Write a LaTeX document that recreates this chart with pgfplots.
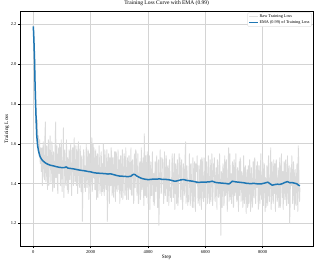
\documentclass[border=0pt]{standalone}
\usepackage{pgfplots}
\pgfplotsset{compat=1.18}
\usepackage{fontspec}
\setmainfont{Liberation Serif}
\definecolor{emablue}{HTML}{1F77B4}
\definecolor{rawgray}{HTML}{DBDBDB}
\begin{document}
\begin{tikzpicture}
\useasboundingbox (-40pt,-38.6pt) rectangle (598pt,493.4pt);
\begin{axis}[
  scale only axis, width=586.6pt, height=471.4pt,
  anchor=south west, at={(0,0)},
  xmin=-465, xmax=9765, ymin=1.083, ymax=2.267,
  xtick={0,2000,4000,6000,8000},
  ytick={1.2,1.4,1.6,1.8,2.0,2.2},
  yticklabel style={/pgf/number format/.cd,fixed,fixed zerofill,precision=1},
  xticklabel style={/pgf/number format/1000 sep={}},
  /pgf/number format/assume math mode=true,
  tick label style={font=\fontsize{9}{10}\selectfont},
  tick align=outside, major tick length=3.5pt,
  tick style={black, line width=0.8pt},
  xtick pos=lower, ytick pos=left,
  grid=major, major grid style={black!17, line width=1.2pt},
  axis line style={line width=0.8pt},
  title={Training Loss Curve with EMA (0.99)},
  title style={font=\fontsize{11}{13}\selectfont, at={(0.5,1)}, anchor=south, yshift=1pt},
  xlabel={Step}, ylabel={Training Loss},
  label style={font=\fontsize{10.5}{12}\selectfont},
  xlabel style={at={(axis description cs:0.5,0)}, anchor=north, yshift=-13pt},
  ylabel style={at={(axis description cs:-0.0443,0.5)}, anchor=center},
  legend style={at={(0.9945,0.993)}, anchor=north east, draw=black!20, rounded corners=2.5pt,
    font=\fontsize{8.5}{10}\selectfont, fill=white, inner sep=2pt, row sep=1pt},
  legend cell align=left,
  legend image code/.code={\draw[#1] (0pt,0pt) -- (17pt,0pt);},
]
\addlegendimage{black!12, line width=0.8pt}
\addlegendentry{Raw Training Loss}
\addplot[rawgray, line width=1.7pt, line join=round, forget plot] coordinates {
(0,2.21)(10,2.08)(20,2.16)(30,2.02)(40,1.97)(50,2.05)(60,1.88)(70,1.80)(80,1.86)(90,1.73)
(100,1.76)(120,1.66)(140,1.72)(160,1.58)(180,1.64)(200,1.54)(220,1.62)(240,1.50)(260,1.58)(280,1.46)
(300,1.58)(315,1.39)(330,1.47)(345,1.61)(360,1.53)(375,1.44)(390,1.42)(405,1.65)(420,1.71)(435,1.41)(450,1.50)(465,1.59)(480,1.45)(495,1.37)(510,1.55)(525,1.62)(540,1.39)(555,1.46)(570,1.57)(585,1.64)
(600,1.50)(615,1.40)(630,1.46)(645,1.61)(660,1.58)(675,1.36)(690,1.41)(705,1.56)(720,1.49)(735,1.38)(750,1.43)(765,1.64)(780,1.71)(795,1.43)(810,1.47)(825,1.59)(840,1.39)(855,1.35)(870,1.54)(885,1.58)
(900,1.45)(915,1.60)(930,1.57)(945,1.39)(960,1.48)(975,1.62)(990,1.41)(1005,1.36)(1020,1.51)(1035,1.54)(1050,1.68)(1065,1.33)(1080,1.43)(1095,1.57)(1110,1.50)(1125,1.40)(1140,1.39)(1155,1.62)(1170,1.52)(1185,1.37)
(1200,1.53)(1215,1.35)(1230,1.37)(1245,1.57)(1260,1.51)(1275,1.42)(1290,1.56)(1305,1.60)(1320,1.44)(1335,1.34)(1350,1.47)(1365,1.58)(1380,1.58)(1395,1.39)(1410,1.41)(1425,1.63)(1440,1.51)(1455,1.41)(1470,1.43)(1485,1.59)
(1500,1.39)(1515,1.57)(1530,1.51)(1545,1.35)(1560,1.58)(1575,1.61)(1590,1.44)(1605,1.39)(1620,1.38)(1635,1.59)(1650,1.49)(1665,1.36)(1680,1.53)(1695,1.54)(1710,1.21)(1725,1.34)(1740,1.48)(1755,1.57)(1770,1.54)(1785,1.38)
(1800,1.49)(1815,1.36)(1830,1.40)(1845,1.60)(1860,1.52)(1875,1.38)(1890,1.45)(1905,1.57)(1920,1.56)(1935,1.32)(1950,1.37)(1965,1.55)(1980,1.50)(1995,1.35)(2010,1.41)(2025,1.57)(2040,1.63)(2055,1.36)(2070,1.40)(2085,1.60)
(2100,1.43)(2115,1.58)(2130,1.52)(2145,1.37)(2160,1.37)(2175,1.57)(2190,1.47)(2205,1.32)(2220,1.53)(2235,1.55)(2250,1.33)(2265,1.39)(2280,1.50)(2295,1.59)(2310,1.46)(2325,1.35)(2340,1.40)(2355,1.54)(2370,1.56)(2385,1.34)
(2400,1.50)(2415,1.36)(2430,1.44)(2445,1.60)(2460,1.38)(2475,1.34)(2490,1.57)(2505,1.54)(2520,1.40)(2535,1.37)(2550,1.48)(2565,1.57)(2580,1.21)(2595,1.32)(2610,1.51)(2625,1.55)(2640,1.44)(2655,1.30)(2670,1.53)(2685,1.52)
(2700,1.39)(2715,1.58)(2730,1.54)(2745,1.34)(2760,1.47)(2775,1.53)(2790,1.35)(2805,1.33)(2820,1.50)(2835,1.56)(2850,1.42)(2865,1.31)(2880,1.56)(2895,1.55)(2910,1.38)(2925,1.36)(2940,1.46)(2955,1.57)(2970,1.41)(2985,1.37)
(3000,1.52)(3015,1.30)(3030,1.39)(3045,1.54)(3060,1.43)(3075,1.33)(3090,1.50)(3105,1.57)(3120,1.32)(3135,1.37)(3150,1.48)(3165,1.55)(3180,1.53)(3195,1.34)(3210,1.42)(3225,1.58)(3240,1.36)(3255,1.32)(3270,1.47)(3285,1.53)
(3300,1.42)(3315,1.32)(3330,1.54)(3345,1.54)(3360,1.38)(3375,1.37)(3390,1.47)(3405,1.58)(3420,1.35)(3435,1.34)(3450,1.51)(3465,1.52)(3480,1.45)(3495,1.30)(3510,1.32)(3525,1.54)(3540,1.55)(3555,1.38)(3570,1.57)(3585,1.56)
(3600,1.49)(3615,1.34)(3630,1.39)(3645,1.55)(3660,1.30)(3675,1.30)(3690,1.45)(3705,1.50)(3720,1.51)(3735,1.32)(3750,1.36)(3765,1.58)(3780,1.47)(3795,1.37)(3810,1.42)(3825,1.53)(3840,1.38)(3855,1.29)(3870,1.65)(3885,1.52)
(3900,1.34)(3915,1.54)(3930,1.46)(3945,1.33)(3960,1.50)(3975,1.56)(3990,1.36)(4005,1.30)(4020,1.43)(4035,1.48)(4050,1.54)(4065,1.27)(4080,1.39)(4095,1.51)(4110,1.34)(4125,1.34)(4140,1.48)(4155,1.56)(4170,1.40)(4185,1.31)
(4200,1.45)(4215,1.29)(4230,1.32)(4245,1.51)(4260,1.47)(4275,1.36)(4290,1.51)(4305,1.54)(4320,1.38)(4335,1.28)(4350,1.40)(4365,1.52)(4380,1.19)(4395,1.33)(4410,1.49)(4425,1.57)(4440,1.44)(4455,1.35)(4470,1.36)(4485,1.53)
(4500,1.52)(4515,1.52)(4530,1.39)(4545,1.30)(4560,1.35)(4575,1.56)(4590,1.46)(4605,1.34)(4620,1.41)(4635,1.54)(4650,1.48)(4665,1.31)(4680,1.31)(4695,1.49)(4710,1.45)(4725,1.29)(4740,1.50)(4755,1.52)(4770,1.37)(4785,1.33)
(4800,1.38)(4815,1.31)(4830,1.49)(4845,1.55)(4860,1.43)(4875,1.33)(4890,1.33)(4905,1.52)(4920,1.55)(4935,1.27)(4950,1.40)(4965,1.50)(4980,1.47)(4995,1.30)(5010,1.35)(5025,1.52)(5040,1.29)(5055,1.31)(5070,1.45)(5085,1.55)
(5100,1.43)(5115,1.53)(5130,1.35)(5145,1.32)(5160,1.50)(5175,1.52)(5190,1.38)(5205,1.27)(5220,1.33)(5235,1.50)(5250,1.46)(5265,1.34)(5280,1.41)(5295,1.54)(5310,1.61)(5325,1.30)(5340,1.34)(5355,1.49)(5370,1.44)(5385,1.29)
(5400,1.34)(5415,1.31)(5430,1.45)(5445,1.55)(5460,1.39)(5475,1.29)(5490,1.49)(5505,1.50)(5520,1.36)(5535,1.33)(5550,1.28)(5565,1.53)(5580,1.47)(5595,1.28)(5610,1.43)(5625,1.51)(5640,1.37)(5655,1.26)(5670,1.50)(5685,1.48)
(5700,1.46)(5715,1.54)(5730,1.40)(5745,1.30)(5760,1.32)(5775,1.49)(5790,1.44)(5805,1.29)(5820,1.48)(5835,1.52)(5850,1.35)(5865,1.27)(5880,1.53)(5895,1.51)(5910,1.38)(5925,1.32)(5940,1.31)(5955,1.53)(5970,1.42)(5985,1.33)
(6000,1.38)(6015,1.27)(6030,1.49)(6045,1.51)(6060,1.45)(6075,1.30)(6090,1.34)(6105,1.54)(6120,1.42)(6135,1.34)(6150,1.30)(6165,1.52)(6180,1.47)(6195,1.31)(6210,1.39)(6225,1.55)(6240,1.51)(6255,1.29)(6270,1.36)(6285,1.50)
(6300,1.48)(6315,1.53)(6330,1.33)(6345,1.31)(6360,1.43)(6375,1.48)(6390,1.37)(6405,1.27)(6420,1.52)(6435,1.51)(6450,1.40)(6465,1.33)(6480,1.35)(6495,1.55)(6510,1.46)(6525,1.30)(6540,1.14)(6555,1.46)(6570,1.45)(6585,1.28)
(6600,1.40)(6615,1.50)(6630,1.47)(6645,1.29)(6660,1.31)(6675,1.54)(6690,1.44)(6705,1.34)(6720,1.50)(6735,1.52)(6750,1.37)(6765,1.26)(6780,1.39)(6795,1.47)(6810,1.58)(6825,1.31)(6840,1.34)(6855,1.55)(6870,1.43)(6885,1.32)
(6900,1.45)(6915,1.30)(6930,1.36)(6945,1.51)(6960,1.49)(6975,1.28)(6990,1.29)(7005,1.52)(7020,1.42)(7035,1.34)(7050,1.46)(7065,1.55)(7080,1.37)(7095,1.31)(7110,1.32)(7125,1.48)(7140,1.45)(7155,1.26)(7170,1.39)(7185,1.51)
(7200,1.34)(7215,1.53)(7230,1.51)(7245,1.31)(7260,1.38)(7275,1.46)(7290,1.44)(7305,1.28)(7320,1.31)(7335,1.54)(7350,1.41)(7365,1.30)(7380,1.47)(7395,1.49)(7410,1.35)(7425,1.25)(7440,1.43)(7455,1.47)(7470,1.28)(7485,1.29)
(7500,1.49)(7515,1.30)(7530,1.37)(7545,1.52)(7560,1.45)(7575,1.26)(7590,1.33)(7605,1.48)(7620,1.42)(7635,1.28)(7650,1.30)(7665,1.51)(7680,1.44)(7695,1.33)(7710,1.52)(7725,1.53)(7740,1.34)(7755,1.30)(7770,1.41)(7785,1.49)
(7800,1.38)(7815,1.51)(7830,1.47)(7845,1.27)(7860,1.29)(7875,1.49)(7890,1.43)(7905,1.30)(7920,1.46)(7935,1.55)(7950,1.36)(7965,1.32)(7980,1.32)(7995,1.52)(8010,1.50)(8025,1.29)(8040,1.39)(8055,1.50)(8070,1.45)(8085,1.26)
(8100,1.43)(8115,1.28)(8130,1.31)(8145,1.49)(8160,1.41)(8175,1.29)(8190,1.48)(8205,1.54)(8220,1.35)(8235,1.31)(8250,1.38)(8265,1.47)(8280,1.58)(8295,1.27)(8310,1.34)(8325,1.51)(8340,1.44)(8355,1.32)(8370,1.30)(8385,1.52)
(8400,1.35)(8415,1.50)(8430,1.42)(8445,1.26)(8460,1.50)(8475,1.52)(8490,1.37)(8505,1.31)(8520,1.33)(8535,1.48)(8550,1.46)(8565,1.28)(8580,1.41)(8595,1.53)(8610,1.28)(8625,1.30)(8640,1.48)(8655,1.55)(8670,1.39)(8685,1.33)
(8700,1.46)(8715,1.27)(8730,1.36)(8745,1.51)(8760,1.38)(8775,1.32)(8790,1.51)(8805,1.52)(8820,1.32)(8835,1.29)(8850,1.43)(8865,1.54)(8880,1.35)(8895,1.30)(8910,1.47)(8925,1.49)(8940,1.20)(8955,1.28)(8970,1.44)(8985,1.48)
(9000,1.39)(9015,1.54)(9030,1.49)(9045,1.30)(9060,1.34)(9075,1.51)(9090,1.42)(9105,1.27)(9120,1.45)(9135,1.47)(9150,1.30)(9165,1.29)(9180,1.43)(9195,1.50)(9210,1.36)(9225,1.26)(9240,1.59)(9255,1.52)(9270,1.37)(9285,1.31)
(9300,1.38)
};
\addplot[emablue, line width=3pt, line join=round] coordinates {
(0,2.19)(20,2.12)(40,2.03)(60,1.90)(80,1.80)(100,1.71)(120,1.64)(150,1.59)(180,1.565)(210,1.548)
(240,1.534)(280,1.524)(320,1.516)(360,1.511)(420,1.504)(480,1.499)(540,1.495)(600,1.492)(700,1.489)(800,1.485)
(900,1.482)(1000,1.480)(1100,1.481)(1150,1.484)(1200,1.478)(1300,1.476)(1400,1.474)(1500,1.471)(1600,1.468)(1700,1.466)
(1800,1.464)(1900,1.461)(2000,1.459)(2100,1.455)(2200,1.453)(2300,1.452)(2400,1.451)(2500,1.450)(2600,1.448)(2700,1.449)
(2800,1.445)(2900,1.441)(3000,1.438)(3100,1.437)(3200,1.436)(3300,1.435)(3400,1.437)(3450,1.443)(3500,1.447)(3550,1.445)
(3600,1.439)(3700,1.431)(3800,1.425)(3900,1.422)(4000,1.420)(4100,1.421)(4200,1.423)(4300,1.422)(4400,1.424)(4500,1.421)
(4600,1.421)(4700,1.420)(4800,1.417)(4900,1.413)(4960,1.412)(5050,1.415)(5150,1.419)(5250,1.420)(5350,1.416)(5450,1.414)
(5550,1.412)(5650,1.409)(5750,1.406)(5850,1.407)(5950,1.407)(6050,1.408)(6150,1.409)(6240,1.412)(6350,1.406)(6450,1.404)
(6530,1.403)(6600,1.402)(6700,1.401)(6820,1.398)(6880,1.404)(6940,1.412)(7000,1.410)(7100,1.408)(7230,1.406)(7350,1.404)
(7450,1.401)(7580,1.400)(7700,1.401)(7800,1.399)(7930,1.398)(8050,1.402)(8180,1.407)(8250,1.400)(8330,1.392)(8420,1.395)
(8510,1.397)(8600,1.396)(8690,1.400)(8780,1.406)(8860,1.410)(8950,1.404)(9030,1.405)(9110,1.402)(9190,1.399)(9250,1.392)
(9300,1.389)
};
\addlegendentry{EMA (0.99) of Training Loss}
\end{axis}
\end{tikzpicture}
\end{document}
